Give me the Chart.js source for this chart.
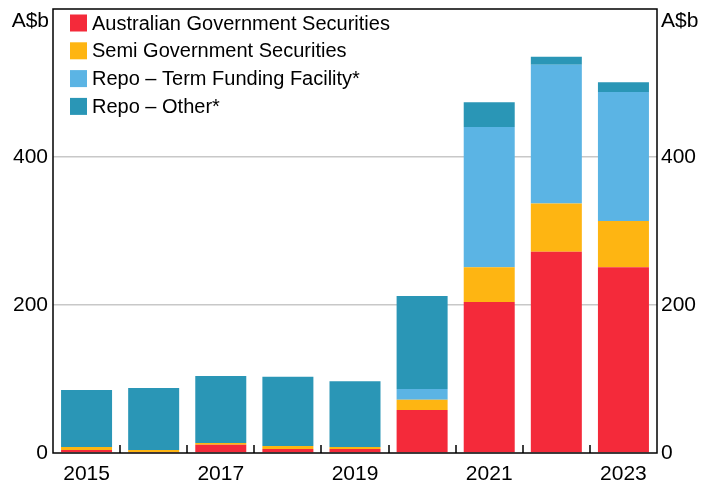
<!DOCTYPE html>
<html>
<head>
<meta charset="utf-8">
<script src="https://cdn.jsdelivr.net/npm/chart.js@4"></script>
<style>
  html, body { margin: 0; padding: 0; background: #fff; }
  #wrap { width: 702px; height: 487px; position: relative; }
</style>
</head>
<body>
<div id="wrap"><canvas id="chart"></canvas></div>
<script>
const years = ['2015', '2016', '2017', '2018', '2019', '2020', '2021', '2022', '2023'];
const ags = [4, 1.5, 11, 5.5, 5.5, 58, 204, 272, 251];
const semi = [4, 2.5, 2.5, 4, 2.5, 14, 47, 65, 62.5];
const tff = [0, 0, 0, 0, 0, 14.5, 189.5, 187.5, 174.5];
const other = [77, 84, 90.5, 93.5, 89, 125.5, 33.5, 11, 13];
const yTicks = [0, 200, 400];

const FONT = '"Liberation Sans", Arial, sans-serif';

// box, inner x ticks, unit labels and legend
const decor = {
    id: 'decor',
    afterDraw(chart) {
        const ctx = chart.ctx;
        const a = chart.chartArea;
        const x = chart.scales.x;
        ctx.save();
        ctx.strokeStyle = '#000';
        ctx.lineWidth = 1.5;
        ctx.beginPath();
        for (let i = 1; i < years.length; i++) {
            const px = Math.round((x.getPixelForTick(i - 1) + x.getPixelForTick(i)) / 2);
            ctx.moveTo(px, a.bottom);
            ctx.lineTo(px, a.bottom - 8);
        }
        ctx.stroke();
        ctx.strokeRect(a.left, a.top, a.right - a.left, a.bottom - a.top);

        ctx.fillStyle = '#000';
        ctx.font = '21px ' + FONT;
        ctx.textBaseline = 'middle';
        ctx.textAlign = 'right';
        ctx.fillText('A$b', a.left - 4, 21);
        ctx.textAlign = 'left';
        ctx.fillText('A$b', a.right + 4, 21);

        ctx.font = '20px ' + FONT;
        chart.data.datasets.forEach((ds, i) => {
            const cy = 23 + i * 27.8;
            ctx.fillStyle = ds.backgroundColor;
            ctx.fillRect(70, cy - 8.5, 17, 17);
            ctx.fillStyle = '#000';
            ctx.fillText(ds.label, 92, cy + 1);
        });
        ctx.restore();
    }
};

new Chart(document.getElementById('chart'), {
    type: 'bar',
    data: {
        labels: years,
        datasets: [
            { label: 'Australian Government Securities', data: ags, backgroundColor: '#F42A3A' },
            { label: 'Semi Government Securities', data: semi, backgroundColor: '#FEB512' },
            { label: 'Repo \u2013 Term Funding Facility*', data: tff, backgroundColor: '#5BB4E4' },
            { label: 'Repo \u2013 Other*', data: other, backgroundColor: '#2A96B6' }
        ]
    },
    options: {
        responsive: true,
        maintainAspectRatio: false,
        animation: false,
        layout: { padding: { top: 9, left: 0, right: 0, bottom: 0 } },
        datasets: { bar: { barPercentage: 0.76, categoryPercentage: 1 } },
        plugins: {
            legend: { display: false },
            tooltip: { enabled: false }
        },
        scales: {
            x: {
                stacked: true,
                grid: { display: false, drawTicks: false },
                border: { display: false },
                ticks: {
                    autoSkip: false,
                    maxRotation: 0,
                    padding: 9,
                    color: '#000',
                    font: { family: FONT, size: 21 },
                    callback: (v, i) => (i % 2 === 0 ? years[i] : '')
                },
                afterFit: s => { s.height = 34; s.paddingLeft = 0; s.paddingRight = 0; }
            },
            y: {
                stacked: true,
                min: 0,
                max: 600,
                afterBuildTicks: s => { s.ticks = yTicks.map(v => ({ value: v })); },
                grid: {
                    color: c => (c.tick.value === 0 ? 'rgba(0,0,0,0)' : '#c8c8c8'),
                    lineWidth: 1.5,
                    drawTicks: false
                },
                border: { display: false },
                ticks: { padding: 5, color: '#000', font: { family: FONT, size: 21 } },
                afterFit: s => { s.width = 53; s.paddingTop = 0; s.paddingBottom = 0; }
            },
            y2: {
                position: 'right',
                min: 0,
                max: 600,
                afterBuildTicks: s => { s.ticks = yTicks.map(v => ({ value: v })); },
                grid: { display: false, drawTicks: false },
                border: { display: false },
                ticks: { padding: 4, color: '#000', font: { family: FONT, size: 21 } },
                afterFit: s => { s.width = 45; s.paddingTop = 0; s.paddingBottom = 0; }
            }
        }
    },
    plugins: [decor]
});
</script>
</body>
</html>
